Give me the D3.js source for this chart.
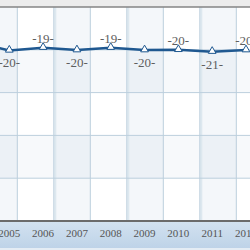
<!DOCTYPE html>
<html><head><meta charset="utf-8">
<script src="https://cdn.jsdelivr.net/npm/d3@7/dist/d3.min.js"></script>
<style>html,body{margin:0;padding:0;background:#fff;}svg{display:block;}</style>
</head><body>
<script>
const years = [2004, 2005, 2006, 2007, 2008, 2009, 2010, 2011, 2012];
const ranks = [17.6, 20.2, 19.3, 20.1, 19.3, 20.1, 20.0, 20.6, 20.1];
const yTicks = [6, 20, 34, 48, 62, 76];
const gridCols = [-1, 0, 1, 2, 3, 4, 5, 6, 7];

const W = 250, H = 250;
const plotTop = 7, plotBottom = 221;
const svg = d3.select("body").append("svg").attr("width", W).attr("height", H);

const x = d3.scaleLinear().domain([2005, 2012]).range([9.3, 246]);
const y = d3.scaleLinear().domain([6, 76]).range([plotTop, plotBottom]);
const gx = d3.scaleLinear().domain([0, 1]).range([17.3, 53.8]);

// top strip
svg.append("rect").attr("x", 0).attr("y", 0).attr("width", W).attr("height", plotTop).attr("fill", "#ececec");

const defs = svg.append("defs");
defs.append("clipPath").attr("id", "plot").append("rect")
  .attr("x", 0).attr("y", plotTop).attr("width", W).attr("height", plotBottom - plotTop);
const bg = defs.append("linearGradient").attr("id", "axg").attr("x1", 0).attr("y1", 0).attr("x2", 0).attr("y2", 1);
bg.append("stop").attr("offset", "0%").attr("stop-color", "#d3e2f0");
bg.append("stop").attr("offset", "100%").attr("stop-color", "#bed3e8");

const plot = svg.append("g").attr("clip-path", "url(#plot)");
plot.append("rect").attr("x", 0).attr("y", plotTop).attr("width", W).attr("height", plotBottom - plotTop).attr("fill", "#fff");

// row bands
const rowBands = d3.range(yTicks.length - 1);
plot.selectAll(".row").data(rowBands.filter(i => i % 2 === 1)).enter().append("rect")
  .attr("x", 0).attr("width", W)
  .attr("y", i => y(yTicks[i])).attr("height", i => y(yTicks[i + 1]) - y(yTicks[i]))
  .attr("fill", "#5a8ab4").attr("fill-opacity", 0.05);

// column bands
plot.selectAll(".col").data(gridCols.filter(c => c === -1 || c % 2 === 1)).enter().append("rect")
  .attr("x", c => gx(c)).attr("width", gx(1) - gx(0))
  .attr("y", plotTop).attr("height", plotBottom - plotTop)
  .attr("fill", "#5a8ab4").attr("fill-opacity", 0.065);

// vertical grid
plot.selectAll(".vsh").data(gridCols.filter(c => c % 2 === 1)).enter().append("line")
  .attr("x1", c => gx(c) + 1.5).attr("x2", c => gx(c) + 1.5)
  .attr("y1", plotTop).attr("y2", plotBottom)
  .attr("stroke", "#dde8ef").attr("stroke-width", 2);
plot.selectAll(".vg").data(gridCols.slice(1)).enter().append("line")
  .attr("x1", c => gx(c)).attr("x2", c => gx(c))
  .attr("y1", plotTop).attr("y2", plotBottom)
  .attr("stroke", "#bccfdd").attr("stroke-width", 1);

// horizontal grid
plot.selectAll(".hg").data(yTicks.slice(1, -1)).enter().append("line")
  .attr("x1", 0).attr("x2", W)
  .attr("y1", d => y(d)).attr("y2", d => y(d))
  .attr("stroke", "#bccfdd").attr("stroke-width", 1);

// data line
const pts = years.map((yr, i) => ({ yr, v: ranks[i], i }));
plot.append("path").datum(pts)
  .attr("d", d3.line().x(d => x(d.yr)).y(d => y(d.v)))
  .attr("fill", "none").attr("stroke", "#1f5890").attr("stroke-width", 2.5)
  .attr("stroke-linejoin", "round");

plot.selectAll(".mk").data(pts).enter().append("path")
  .attr("d", d3.symbol().type(d3.symbolTriangle).size(26))
  .attr("transform", d => `translate(${x(d.yr)},${y(d.v) - 0.5})`)
  .attr("fill", "#fff").attr("stroke", "#1f5890").attr("stroke-width", 1);

plot.selectAll(".lb").data(pts.filter(d => x(d.yr) >= 0)).enter().append("text")
  .attr("x", d => x(d.yr))
  .attr("y", d => d.i % 2 === 1 ? y(d.v) + 17 : y(d.v) - 5)
  .attr("text-anchor", "middle")
  .attr("font-family", "Liberation Serif, Times New Roman, serif")
  .attr("font-size", 13).attr("fill", "#5e5e5e")
  .text(d => `-${Math.round(d.v)}-`);

// top border
svg.append("line").attr("x1", 0).attr("x2", W).attr("y1", plotTop).attr("y2", plotTop)
  .attr("stroke", "#858585").attr("stroke-width", 1.5);

// x axis band
svg.append("rect").attr("x", 0).attr("y", plotBottom).attr("width", W).attr("height", 27).attr("fill", "url(#axg)");
svg.append("rect").attr("x", 0).attr("y", plotBottom + 27).attr("width", W).attr("height", H - plotBottom - 27).attr("fill", "#e4ecf4");
svg.append("line").attr("x1", 0).attr("x2", W).attr("y1", plotBottom).attr("y2", plotBottom)
  .attr("stroke", "#6b6b6b").attr("stroke-width", 2);

svg.selectAll(".xl").data(years.filter(yr => yr >= 2005)).enter().append("text")
  .attr("x", d => x(d)).attr("y", plotBottom + 16)
  .attr("text-anchor", "middle")
  .attr("font-family", "Liberation Serif, Times New Roman, serif")
  .attr("font-size", 11).attr("fill", "#555")
  .text(d => d);
</script>
</body></html>
